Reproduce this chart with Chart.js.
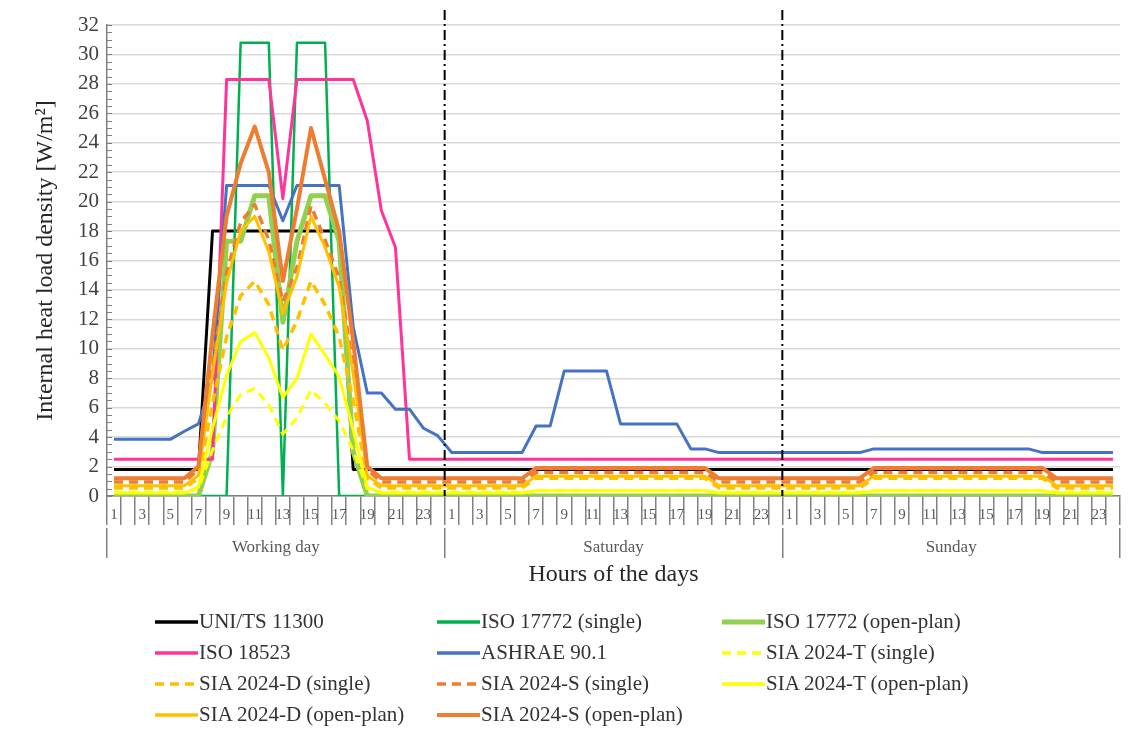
<!DOCTYPE html>
<html>
<head>
<meta charset="utf-8">
<script src="https://cdn.jsdelivr.net/npm/chart.js@4.4.1/dist/chart.umd.min.js"></script>
<style>
   body { margin: 0; background: #fff; }
   #wrap { position: relative; width: 1131px; height: 744px; }
   #legend {
      position: absolute; left: 155px; top: 606px;
      display: grid; grid-template-columns: 282px 285px auto; grid-auto-rows: 31px;
      font: 21px 'Liberation Serif', 'Times New Roman', serif; color: #333;
   }
   .item { display: flex; align-items: center; white-space: nowrap; }
   .item svg { margin-right: 1px; }
</style>
</head>
<body>
<div id="wrap">
   <canvas id="chart1" width="1131" height="744"></canvas>
   <div id="legend"></div>
</div>
<script>
/*=================================>> DATA  <<=================================*/

const dayNames = ["Working day", "Saturday", "Sunday"];
const hourLabels = ["1","2","3","4","5","6","7","8","9","10","11","12",
                    "13","14","15","16","17","18","19","20","21","22","23","24"];

// one value per hour : working day, saturday, sunday
const uniTs11300 = [
   1.8,1.8,1.8,1.8,1.8,1.8,1.8,18,18,18,18,18,18,18,18,18,18,1.8,1.8,1.8,1.8,1.8,1.8,1.8,
   1.8,1.8,1.8,1.8,1.8,1.8,1.8,1.8,1.8,1.8,1.8,1.8,1.8,1.8,1.8,1.8,1.8,1.8,1.8,1.8,1.8,1.8,1.8,1.8,
   1.8,1.8,1.8,1.8,1.8,1.8,1.8,1.8,1.8,1.8,1.8,1.8,1.8,1.8,1.8,1.8,1.8,1.8,1.8,1.8,1.8,1.8,1.8,1.8
];
const iso17772Single = [
   0,0,0,0,0,0,0,0,0,30.8,30.8,30.8,0,30.8,30.8,30.8,0,0,0,0,0,0,0,0,
   0,0,0,0,0,0,0,0,0,0,0,0,0,0,0,0,0,0,0,0,0,0,0,0,
   0,0,0,0,0,0,0,0,0,0,0,0,0,0,0,0,0,0,0,0,0,0,0,0
];
const iso17772Open = [
   0,0,0,0,0,0,0,3,17.3,17.3,20.4,20.4,11.8,17.3,20.4,20.4,17.3,3,0,0,0,0,0,0,
   0,0,0,0,0,0,0,0,0,0,0,0,0,0,0,0,0,0,0,0,0,0,0,0,
   0,0,0,0,0,0,0,0,0,0,0,0,0,0,0,0,0,0,0,0,0,0,0,0
];
const iso18523 = [
   2.5,2.5,2.5,2.5,2.5,2.5,2.5,2.5,28.3,28.3,28.3,28.3,20.2,28.3,28.3,28.3,28.3,28.3,25.5,19.4,16.9,2.5,2.5,2.5,
   2.5,2.5,2.5,2.5,2.5,2.5,2.5,2.5,2.5,2.5,2.5,2.5,2.5,2.5,2.5,2.5,2.5,2.5,2.5,2.5,2.5,2.5,2.5,2.5,
   2.5,2.5,2.5,2.5,2.5,2.5,2.5,2.5,2.5,2.5,2.5,2.5,2.5,2.5,2.5,2.5,2.5,2.5,2.5,2.5,2.5,2.5,2.5,2.5
];
const ashrae901 = [
   3.85,3.85,3.85,3.85,3.85,4.4,4.9,8,21.1,21.1,21.1,21.1,18.7,21.1,21.1,21.1,21.1,11.5,7,7,5.9,5.9,4.6,4.1,
   2.95,2.95,2.95,2.95,2.95,2.95,4.76,4.76,8.5,8.5,8.5,8.5,4.9,4.9,4.9,4.9,4.9,3.2,3.2,2.95,2.95,2.95,2.95,2.95,
   2.95,2.95,2.95,2.95,2.95,2.95,3.2,3.2,3.2,3.2,3.2,3.2,3.2,3.2,3.2,3.2,3.2,3.2,2.95,2.95,2.95,2.95,2.95,2.95
];
const sia2024TSingle = [
   0.25,0.25,0.25,0.25,0.25,0.25,0.5,3.1,5.4,6.9,7.3,6.2,4.2,5.3,7.2,6.3,5.1,3.1,0.5,0.25,0.25,0.25,0.25,0.25,
   0.25,0.25,0.25,0.25,0.25,0.25,0.35,0.35,0.35,0.35,0.35,0.35,0.35,0.35,0.35,0.35,0.35,0.35,0.35,0.25,0.25,0.25,0.25,0.25,
   0.25,0.25,0.25,0.25,0.25,0.25,0.35,0.35,0.35,0.35,0.35,0.35,0.35,0.35,0.35,0.35,0.35,0.35,0.35,0.25,0.25,0.25,0.25,0.25
];
const sia2024DSingle = [
   0.55,0.55,0.55,0.55,0.55,0.55,1.2,6.3,10.8,13.6,14.6,13,9.9,11.9,14.6,13,10.8,6.5,1.2,0.55,0.55,0.55,0.55,0.55,
   0.55,0.55,0.55,0.55,0.55,0.55,1.2,1.2,1.2,1.2,1.2,1.2,1.2,1.2,1.2,1.2,1.2,1.2,1.2,0.55,0.55,0.55,0.55,0.55,
   0.55,0.55,0.55,0.55,0.55,0.55,1.2,1.2,1.2,1.2,1.2,1.2,1.2,1.2,1.2,1.2,1.2,1.2,1.2,0.55,0.55,0.55,0.55,0.55
];
const sia2024SSingle = [
   0.95,0.95,0.95,0.95,0.95,0.95,1.8,8.8,15.2,18.6,19.8,17.4,13.2,15.5,19.7,17.4,14.8,8.8,1.8,0.95,0.95,0.95,0.95,0.95,
   0.95,0.95,0.95,0.95,0.95,0.95,1.6,1.6,1.6,1.6,1.6,1.6,1.6,1.6,1.6,1.6,1.6,1.6,1.6,0.95,0.95,0.95,0.95,0.95,
   0.95,0.95,0.95,0.95,0.95,0.95,1.6,1.6,1.6,1.6,1.6,1.6,1.6,1.6,1.6,1.6,1.6,1.6,1.6,0.95,0.95,0.95,0.95,0.95
];
const sia2024TOpen = [
   0.2,0.2,0.2,0.2,0.2,0.2,0.6,4.6,8.2,10.5,11.1,9.4,6.7,8,11,9.6,8.1,4.5,0.6,0.2,0.2,0.2,0.2,0.2,
   0.2,0.2,0.2,0.2,0.2,0.2,0.35,0.35,0.35,0.35,0.35,0.35,0.35,0.35,0.35,0.35,0.35,0.35,0.35,0.2,0.2,0.2,0.2,0.2,
   0.2,0.2,0.2,0.2,0.2,0.2,0.35,0.35,0.35,0.35,0.35,0.35,0.35,0.35,0.35,0.35,0.35,0.35,0.35,0.2,0.2,0.2,0.2,0.2
];
const sia2024DOpen = [
   0.7,0.7,0.7,0.7,0.7,0.7,1.4,8.3,14.5,18,19,16.6,12.4,14.9,19,16.9,14.2,8.3,1.4,0.7,0.7,0.7,0.7,0.7,
   0.7,0.7,0.7,0.7,0.7,0.7,1.35,1.35,1.35,1.35,1.35,1.35,1.35,1.35,1.35,1.35,1.35,1.35,1.35,0.7,0.7,0.7,0.7,0.7,
   0.7,0.7,0.7,0.7,0.7,0.7,1.35,1.35,1.35,1.35,1.35,1.35,1.35,1.35,1.35,1.35,1.35,1.35,1.35,0.7,0.7,0.7,0.7,0.7
];
const sia2024SOpen = [
   1.2,1.2,1.2,1.2,1.2,1.2,2,11,19,22.6,25.1,22,14.6,19.5,25,21.5,18,10.5,2,1.2,1.2,1.2,1.2,1.2,
   1.2,1.2,1.2,1.2,1.2,1.2,1.9,1.9,1.9,1.9,1.9,1.9,1.9,1.9,1.9,1.9,1.9,1.9,1.9,1.2,1.2,1.2,1.2,1.2,
   1.2,1.2,1.2,1.2,1.2,1.2,1.9,1.9,1.9,1.9,1.9,1.9,1.9,1.9,1.9,1.9,1.9,1.9,1.9,1.2,1.2,1.2,1.2,1.2
];

/*=================================>> CHART  <<=================================*/

const serif = "'Liberation Serif', 'Times New Roman', serif";
const axisGrey = "#808080";

(function main() {
   const categories = [];
   dayNames.forEach(() => hourLabels.forEach(h => categories.push(h)));

   const series = [
      ["UNI/TS 11300",             uniTs11300,     "#000000", 3,   null],
      ["ISO 17772 (single)",       iso17772Single, "#00b050", 2.5, null],
      ["ISO 17772 (open-plan)",    iso17772Open,   "#92d050", 5,   null],
      ["ISO 18523",                iso18523,       "#ff3399", 3,   null],
      ["ASHRAE 90.1",              ashrae901,      "#4472c4", 3,   null],
      ["SIA 2024-T (single)",      sia2024TSingle, "#ffff00", 3,   [9, 6]],
      ["SIA 2024-D (single)",      sia2024DSingle, "#ffc000", 3.5, [9, 6]],
      ["SIA 2024-S (single)",      sia2024SSingle, "#ed7d31", 3.5, [9, 6]],
      ["SIA 2024-T (open-plan)",   sia2024TOpen,   "#ffff00", 3,   null],
      ["SIA 2024-D (open-plan)",   sia2024DOpen,   "#ffc000", 3,   null],
      ["SIA 2024-S (open-plan)",   sia2024SOpen,   "#ed7d31", 4,   null],
   ];

   const datasets = series.map((s, i) => ({
      label: s[0],
      data: s[1],
      borderColor: s[2],
      backgroundColor: s[2],
      borderWidth: s[3],
      borderDash: s[4] || [],
      pointRadius: 0,
      tension: 0,
      fill: false,
      borderJoinStyle: "round",
      order: -i,   // later series on top, like the spreadsheet
   }));

   const chart = drawChart(document.querySelector("#chart1"), categories, datasets);
   buildLegend(chart);
})();

function drawChart(canva, categories, datasets) {
   const dayBreaks = {
      id: "dayBreaks",
      afterDatasetsDraw(chart) {
         const { ctx, chartArea, scales: { x, y } } = chart;
         ctx.save();
         // small inner ticks on the value axis
         ctx.strokeStyle = axisGrey;
         ctx.lineWidth = 1;
         ctx.beginPath();
         for (let v = 0; v <= 32; v += 0.5) {
            const py = Math.round(y.getPixelForValue(v)) + 0.5;
            ctx.moveTo(chartArea.left, py);
            ctx.lineTo(chartArea.left + 5, py);
         }
         ctx.stroke();
         // dash-dot separators between the days
         ctx.strokeStyle = "#000";
         ctx.lineWidth = 2;
         ctx.setLineDash([10, 4, 2, 4]);
         for (let d = 1; d < dayNames.length; d++) {
            const i = d * hourLabels.length;
            const px = (x.getPixelForValue(i - 1) + x.getPixelForValue(i)) / 2;
            ctx.beginPath();
            ctx.moveTo(px, chartArea.top - 15);
            ctx.lineTo(px, chartArea.bottom);
            ctx.stroke();
         }
         ctx.restore();
      }
   };

   const config = {
      type: "line",
      data: { labels: categories, datasets: datasets },
      plugins: [dayBreaks],
      options: {
         responsive: false,
         animation: false,
         layout: { padding: { top: 25, right: 11, bottom: 152, left: 25 } },
         plugins: {
            legend: { display: false },
            tooltip: { enabled: false },
         },
         scales: {
            x: {
               type: "category",
               offset: true,
               weight: 0,
               grid: {
                  drawOnChartArea: false,
                  drawTicks: true,
                  tickLength: 29,
                  offset: true,
                  color: axisGrey,
                  lineWidth: 1.5,
               },
               border: { display: true, color: axisGrey, width: 1.5 },
               ticks: {
                  autoSkip: false,
                  maxRotation: 0,
                  padding: -19,
                  color: "#595959",
                  font: { family: serif, size: 15 },
                  callback: function (value, index) {
                     return index % 2 === 0 ? this.getLabelForValue(value) : "";
                  }
               },
               afterFit: (scale) => { scale.height = 32; },
            },
            x2: {
               type: "category",
               labels: dayNames,
               position: "bottom",
               offset: true,
               weight: 1,
               grid: {
                  drawOnChartArea: false,
                  drawTicks: true,
                  tickLength: 30,
                  offset: true,
                  color: axisGrey,
                  lineWidth: 1.5,
               },
               border: { display: false },
               ticks: {
                  padding: -21,
                  color: "#595959",
                  font: { family: serif, size: 17 },
               },
               title: {
                  display: true,
                  text: "Hours of the days",
                  color: "#262626",
                  font: { family: serif, size: 24 },
                  padding: { top: 0, bottom: 3 },
               },
               afterFit: (scale) => { scale.height = 64; },
            },
            y: {
               min: 0,
               max: 32,
               ticks: {
                  stepSize: 2,
                  padding: 8,
                  color: "#404040",
                  font: { family: serif, size: 21 },
               },
               grid: { color: "#d9d9d9", lineWidth: 1.5, drawTicks: false },
               border: { color: axisGrey, width: 1.5 },
               title: {
                  display: true,
                  text: "Internal heat load density [W/m²]",
                  color: "#262626",
                  font: { family: serif, size: 24 },
                  padding: { top: 6, bottom: 0 },
               },
               afterFit: (scale) => { scale.width = 82; },
            }
         }
      }
   };
   return new Chart(canva, config);
}

function buildLegend(chart) {
   const slot = document.querySelector("#legend");
   chart.data.datasets.forEach(ds => {
      const item = document.createElement("div");
      item.className = "item";
      const dash = ds.borderDash.length ? `stroke-dasharray="${ds.borderDash.join(" ")}"` : "";
      item.innerHTML =
         `<svg width="43" height="10"><line x1="0" y1="5" x2="43" y2="5" stroke="${ds.borderColor}" ` +
         `stroke-width="${Math.max(ds.borderWidth, 3.5)}" ${dash}/></svg><span>${ds.label}</span>`;
      slot.appendChild(item);
   });
}
</script>
</body>
</html>
